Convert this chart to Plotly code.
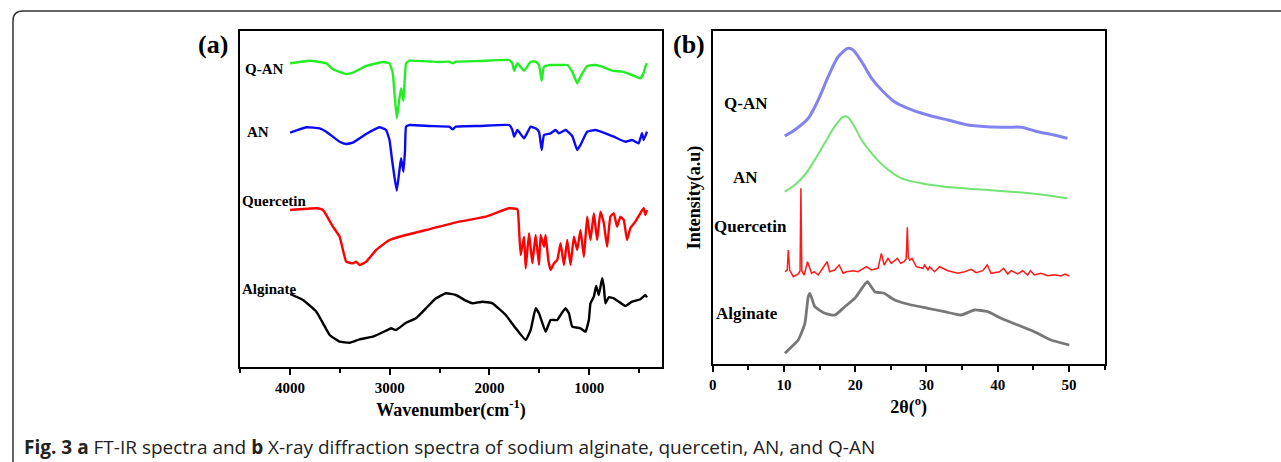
import plotly.graph_objects as go

# ---------------- FT-IR spectra (panel a) ----------------
# wavenumber (cm-1) and relative transmittance (a.u.) for each sample
ir_qan_wn = [4000, 3803, 3637, 3570, 3437, 3370, 3237, 3070, 3003, 2970, 2953, 2930, 2910, 2887, 2863,
             2837, 2803, 2600, 2500, 2403, 2370, 2337, 2100, 1803, 1770, 1753, 1720, 1653, 1587, 1537,
             1503, 1477, 1453, 1387, 1303, 1220, 1170, 1120, 1087, 1020, 937, 870, 770, 670, 570, 487,
             453, 437, 420]
ir_qan_t = [63.7, 66.3, 63.7, 57.7, 53.0, 54.3, 61.0, 65.0, 63.7, 53.7, 33.7, 8.7, 23.7, 38.7, 26.3,
            63.7, 66.3, 65.5, 65.0, 65.3, 63.7, 65.3, 66.0, 67.0, 63.7, 56.3, 63.7, 56.3, 65.3, 65.3,
            62.0, 46.3, 60.3, 62.0, 62.0, 62.0, 55.3, 43.7, 50.3, 61.0, 62.0, 60.3, 56.3, 55.3, 52.0, 48.7,
            54.3, 60.3, 63.7]

ir_an_wn = [4000, 3837, 3703, 3637, 3503, 3437, 3370, 3237, 3103, 3037, 3003, 2977, 2953, 2930, 2903,
            2887, 2863, 2847, 2837, 2803, 2600, 2403, 2370, 2337, 2100, 1803, 1770, 1753, 1720, 1653,
            1587, 1537, 1503, 1477, 1453, 1387, 1337, 1303, 1237, 1170, 1120, 1087, 1020, 937, 837,
            753, 637, 570, 503, 470, 453, 420]
ir_an_t = [64.3, 69.7, 68.7, 65.3, 55.3, 53.0, 54.3, 63.0, 69.7, 67.0, 57.0, 37.0, 20.0, 6.3, 27.0,
           38.7, 25.3, 47.0, 70.3, 72.0, 71.0, 70.3, 67.7, 70.3, 71.0, 72.0, 67.0, 60.3, 67.0, 58.7,
           70.3, 68.7, 65.3, 47.0, 62.0, 63.7, 67.0, 63.7, 67.0, 61.0, 47.0, 52.0, 65.3, 67.0, 63.7,
           60.3, 55.3, 57.0, 53.7, 63.7, 57.0, 65.3]

ir_que_wn = [4000, 3737, 3670, 3570, 3503, 3437, 3370, 3337, 3303, 3237, 3137, 3003, 2837, 2637, 2303,
             2037, 1803, 1720, 1703, 1687, 1653, 1637, 1603, 1570, 1537, 1503, 1487, 1453, 1437, 1410,
             1387, 1353, 1320, 1287, 1253, 1220, 1187, 1153, 1120, 1087, 1053, 1020, 987, 953, 920,
             887, 853, 820, 787, 753, 720, 687, 653, 620, 587, 537, 487, 453, 437, 420]
ir_que_t = [67.0, 68.7, 67.0, 50.3, 40.3, 15.3, 13.7, 15.3, 12.0, 15.3, 27.0, 37.0, 42.0, 47.0, 55.3,
            60.3, 68.7, 67.7, 47.0, 22.0, 40.3, 8.7, 43.7, 13.7, 42.0, 12.0, 42.0, 30.3, 42.0, 17.0,
            7.0, 13.7, 17.0, 33.7, 12.0, 37.0, 12.0, 40.3, 27.0, 47.0, 20.3, 60.3, 37.0, 63.7, 37.0,
            65.3, 53.7, 30.3, 60.3, 63.7, 50.3, 60.3, 57.0, 37.0, 48.7, 55.3, 63.7, 68.7, 62.0, 67.0]

ir_alg_wn = [4000, 3870, 3737, 3670, 3603, 3503, 3403, 3303, 3170, 3037, 2987, 2937, 2837, 2737, 2637,
             2537, 2437, 2337, 2237, 2170, 2070, 1970, 1837, 1737, 1637, 1587, 1537, 1503, 1437, 1387,
             1320, 1287, 1237, 1203, 1170, 1087, 1037, 1003, 987, 953, 930, 903, 870, 853, 837, 803,
             753, 703, 637, 570, 487, 437, 420]
ir_alg_t = [73.0, 67.0, 55.3, 43.7, 32.0, 25.3, 24.3, 27.7, 30.3, 36.3, 38.7, 37.0, 44.3, 48.7, 58.7,
            68.7, 73.7, 72.0, 66.3, 63.7, 65.3, 63.7, 52.0, 38.7, 27.0, 37.0, 58.7, 53.7, 35.3, 47.0,
            47.0, 52.0, 58.7, 53.7, 40.3, 38.7, 35.3, 47.0, 63.7, 70.3, 81.0, 72.0, 88.7, 80.3, 63.7, 69.7,
            68.7, 65.3, 61.0, 65.3, 67.7, 72.0, 69.7]

# ---------------- XRD patterns (panel b) ----------------
xrd_qan_2t = [10.1, 11.5, 13.4, 14.8, 16.2, 17.6, 19.0, 19.7, 20.9, 22.3, 23.7, 25.5, 27.4, 30.2,
              33.0, 35.8, 38.6, 41.4, 43.3, 45.6, 47.9, 49.8]
xrd_qan_i = [8.0, 14.0, 25.7, 44.0, 67.3, 87.3, 95.7, 94.0, 82.3, 65.7, 54.0, 42.3, 35.7, 29.0,
             24.0, 19.0, 17.3, 16.7, 16.7, 12.3, 9.0, 5.7]

xrd_an_2t = [10.1, 11.5, 12.9, 14.3, 15.7, 17.1, 18.3, 19.0, 19.9, 20.9, 22.3, 24.1, 26.5, 29.3,
             32.5, 37.2, 41.9, 46.6, 49.8]
xrd_an_i = [12.3, 19.0, 29.0, 44.0, 60.7, 77.3, 87.3, 86.7, 77.3, 64.0, 50.7, 37.3, 25.7, 20.7,
            17.3, 14.7, 12.3, 9.0, 5.7]

xrd_que_2t = [10.13, 10.45, 10.6, 10.8, 11.3, 12.0, 12.25, 12.37, 12.5, 12.84, 13.3, 13.87, 14.24,
              14.8, 15.74, 16.06, 16.4, 17.1, 17.74, 18.3, 18.77, 19.7, 20.4, 21.57, 22.27, 23.2,
              23.67, 24.05, 24.6, 25.07, 25.91, 26.38, 26.85, 27.15, 27.31, 27.45, 27.64, 27.97,
              28.57, 29.51, 29.74, 30.21, 30.44, 31.14, 31.84, 33.01, 34.41, 35.34, 36.28, 36.98,
              37.91, 38.52, 39.08, 40.25, 40.81, 41.41, 41.88, 42.81, 43.51, 44.21, 44.59, 45.15,
              46.08, 47.02, 47.95, 48.89, 49.44, 50.05]
xrd_que_i = [7.3, 9.0, 29.0, 9.0, 2.3, 5.0, 8.0, 90.7, 8.0, 4.0, 17.3, 5.7, 7.3,
             4.0, 14.0, 17.3, 7.3, 9.0, 14.0, 5.7, 7.3, 8.3, 7.3, 12.3, 9.0, 10.7,
             25.7, 14.0, 20.7, 15.7, 20.7, 15.7, 17.3, 20.0, 51.7, 22.0, 19.0, 20.7,
             12.3, 10.7, 14.0, 9.0, 12.3, 7.3, 12.3, 8.3, 5.7, 7.3, 9.7, 6.3,
             8.3, 14.0, 5.7, 7.3, 10.7, 5.0, 8.3, 5.0, 8.3, 4.0, 8.3, 4.0,
             5.7, 3.3, 4.3, 3.0, 5.0, 3.0]

xrd_alg_2t = [10.13, 11.07, 12.0, 12.93, 13.4, 13.63, 14.34, 15.74, 17.14, 18.54, 19.94, 21.1, 21.71,
              22.74, 24.05, 25.54, 27.87, 30.21, 32.54, 34.88, 36.74, 38.61, 40.48, 42.81, 45.15,
              47.48, 50.05]
xrd_alg_i = [10.7, 17.3, 24.0, 40.7, 67.3, 70.7, 57.3, 50.7, 49.0, 57.3, 65.7, 77.3, 82.3,
             72.3, 70.7, 64.0, 59.0, 55.7, 52.3, 49.0, 54.0, 52.3, 45.7, 39.0, 32.3,
             24.0, 19.0]

# stacking offsets for the vertically separated curves
ir_offsets = {"Q-AN": 240, "AN": 170, "Quercetin": 90, "Alginate": 0}
xrd_offsets = {"Q-AN": 220, "AN": 160, "Quercetin": 85, "Alginate": 0}

SERIF = "Liberation Serif"
W, H = 1281, 462

fig = go.Figure()

ir_series = [
    ("Q-AN", ir_qan_wn, ir_qan_t, "#22ee22"),
    ("AN", ir_an_wn, ir_an_t, "#0a0af5"),
    ("Quercetin", ir_que_wn, ir_que_t, "#ff0000"),
    ("Alginate", ir_alg_wn, ir_alg_t, "#000000"),
]
for name, xs, ys, col in ir_series:
    off = ir_offsets[name]
    fig.add_trace(go.Scatter(
        x=xs, y=[v + off for v in ys], mode="lines", name=name,
        line=dict(color=col, width=2.4, shape="spline", smoothing=0.35),
        xaxis="x", yaxis="y", showlegend=False, hoverinfo="skip"))

# (name, x, y, colour, width, smoothing)
xrd_series = [
    ("Q-AN", xrd_qan_2t, xrd_qan_i, "rgba(100,100,235,0.8)", 3.0, 0.8),
    ("AN", xrd_an_2t, xrd_an_i, "rgba(100,225,100,0.9)", 2.0, 0.8),
    ("Quercetin", xrd_que_2t, xrd_que_i, "#ff1a1a", 1.5, 0),
    ("Alginate", xrd_alg_2t, xrd_alg_i, "rgba(85,85,85,0.8)", 2.8, 0.5),
]
for name, xs, ys, col, w, sm in xrd_series:
    off = xrd_offsets[name]
    line = dict(color=col, width=w)
    if sm:
        line.update(shape="spline", smoothing=sm)
    fig.add_trace(go.Scatter(
        x=xs, y=[v + off for v in ys], mode="lines", name=name, line=line,
        xaxis="x2", yaxis="y2", showlegend=False, hoverinfo="skip"))

# panel positions in pixels (left, right, top, bottom)
a_box = (237, 660, 31, 367)
b_box = (711, 1104, 31, 364)


def xdom(box):
    return [box[0] / W, box[1] / W]


def ydom(box):
    return [1 - box[3] / H, 1 - box[2] / H]


tick_font = dict(family=SERIF, size=15, color="black", weight="bold")
title_font = dict(family=SERIF, size=18, color="black", weight="bold")

common_x = dict(showline=True, linecolor="black", linewidth=2, mirror=True,
                ticks="outside", ticklen=6, tickwidth=2, tickcolor="black",
                tickfont=tick_font, showgrid=False, zeroline=False)
common_y = dict(showline=True, linecolor="black", linewidth=2, mirror=True,
                ticks="", showticklabels=False, showgrid=False, zeroline=False)

fig.update_layout(
    width=W, height=H,
    margin=dict(l=0, r=0, t=0, b=0),
    paper_bgcolor="white", plot_bgcolor="white",
    xaxis=dict(domain=xdom(a_box), range=[4500, 270], tickvals=[1000, 2000, 3000, 4000],
               minor=dict(ticks="outside", ticklen=4, tickwidth=2, tickcolor="black", dtick=500),
               title=dict(text="Wavenumber(cm<sup>-1</sup>)", font=title_font, standoff=8),
               anchor="y", **common_x),
    yaxis=dict(domain=ydom(a_box), range=[0, 336], anchor="x", **common_y),
    xaxis2=dict(domain=xdom(b_box), range=[0, 55], tickvals=[0, 10, 20, 30, 40, 50],
                minor=dict(ticks="outside", ticklen=4, tickwidth=2, tickcolor="black", dtick=5),
                title=dict(text="2θ(<sup>o</sup>)", font=title_font, standoff=8),
                anchor="y2", **common_x),
    yaxis2=dict(domain=ydom(b_box), range=[0, 333], anchor="x2",
                title=dict(text="Intensity(a.u)", font=dict(family=SERIF, size=18, color="black",
                                                            weight="bold"), standoff=5),
                **common_y),
)

ann = []
label_font = dict(family=SERIF, size=15, color="black", weight="bold")
# curve labels, panel a
for text, x, y in [("Q-AN", 4260, 298), ("AN", 4320, 235), ("Quercetin", 4160, 166), ("Alginate", 4210, 78)]:
    ann.append(dict(text=text, x=x, y=y, xref="x", yref="y", xanchor="center",
                    showarrow=False, font=label_font))
# curve labels, panel b
label_font_b = dict(family=SERIF, size=17, color="black", weight="bold")
for text, x, y in [("Q-AN", 4.6, 261), ("AN", 4.6, 187), ("Quercetin", 5.3, 138), ("Alginate", 4.8, 51)]:
    ann.append(dict(text=text, x=x, y=y, xref="x2", yref="y2", xanchor="center",
                    showarrow=False, font=label_font_b))
# panel letters
panel_font = dict(family=SERIF, size=26, color="black", weight="bold")
ann.append(dict(text="(a)", x=210 / W, y=1 - 44 / H, xref="paper", yref="paper",
                xanchor="center", yanchor="middle", showarrow=False, font=panel_font))
ann.append(dict(text="(b)", x=687 / W, y=1 - 44 / H, xref="paper", yref="paper",
                xanchor="center", yanchor="middle", showarrow=False, font=panel_font))
# caption
ann.append(dict(
    text="<b>Fig. 3</b> <b>a</b> FT-IR spectra and <b>b</b> X-ray diffraction spectra of sodium alginate, "
         "quercetin, AN, and Q-AN",
    x=18 / W, y=1 - 447 / H, xref="paper", yref="paper", xanchor="left", yanchor="middle",
    showarrow=False, font=dict(family="Open Sans", size=19, color="#222222")))
fig.update_layout(annotations=ann)

# rounded outer frame (open at the right and bottom edges)
x0, yt = 9 / W, 1 - 11 / H
rx, ry = 10 / W, 10 / H
frame = (f"M {x0},-0.05 L {x0},{yt - ry} Q {x0},{yt} {x0 + rx},{yt} L 1.05,{yt}")
fig.add_shape(type="path", path=frame, xref="paper", yref="paper",
              line=dict(color="#333333", width=1.5))

fig.write_html("out.html")
